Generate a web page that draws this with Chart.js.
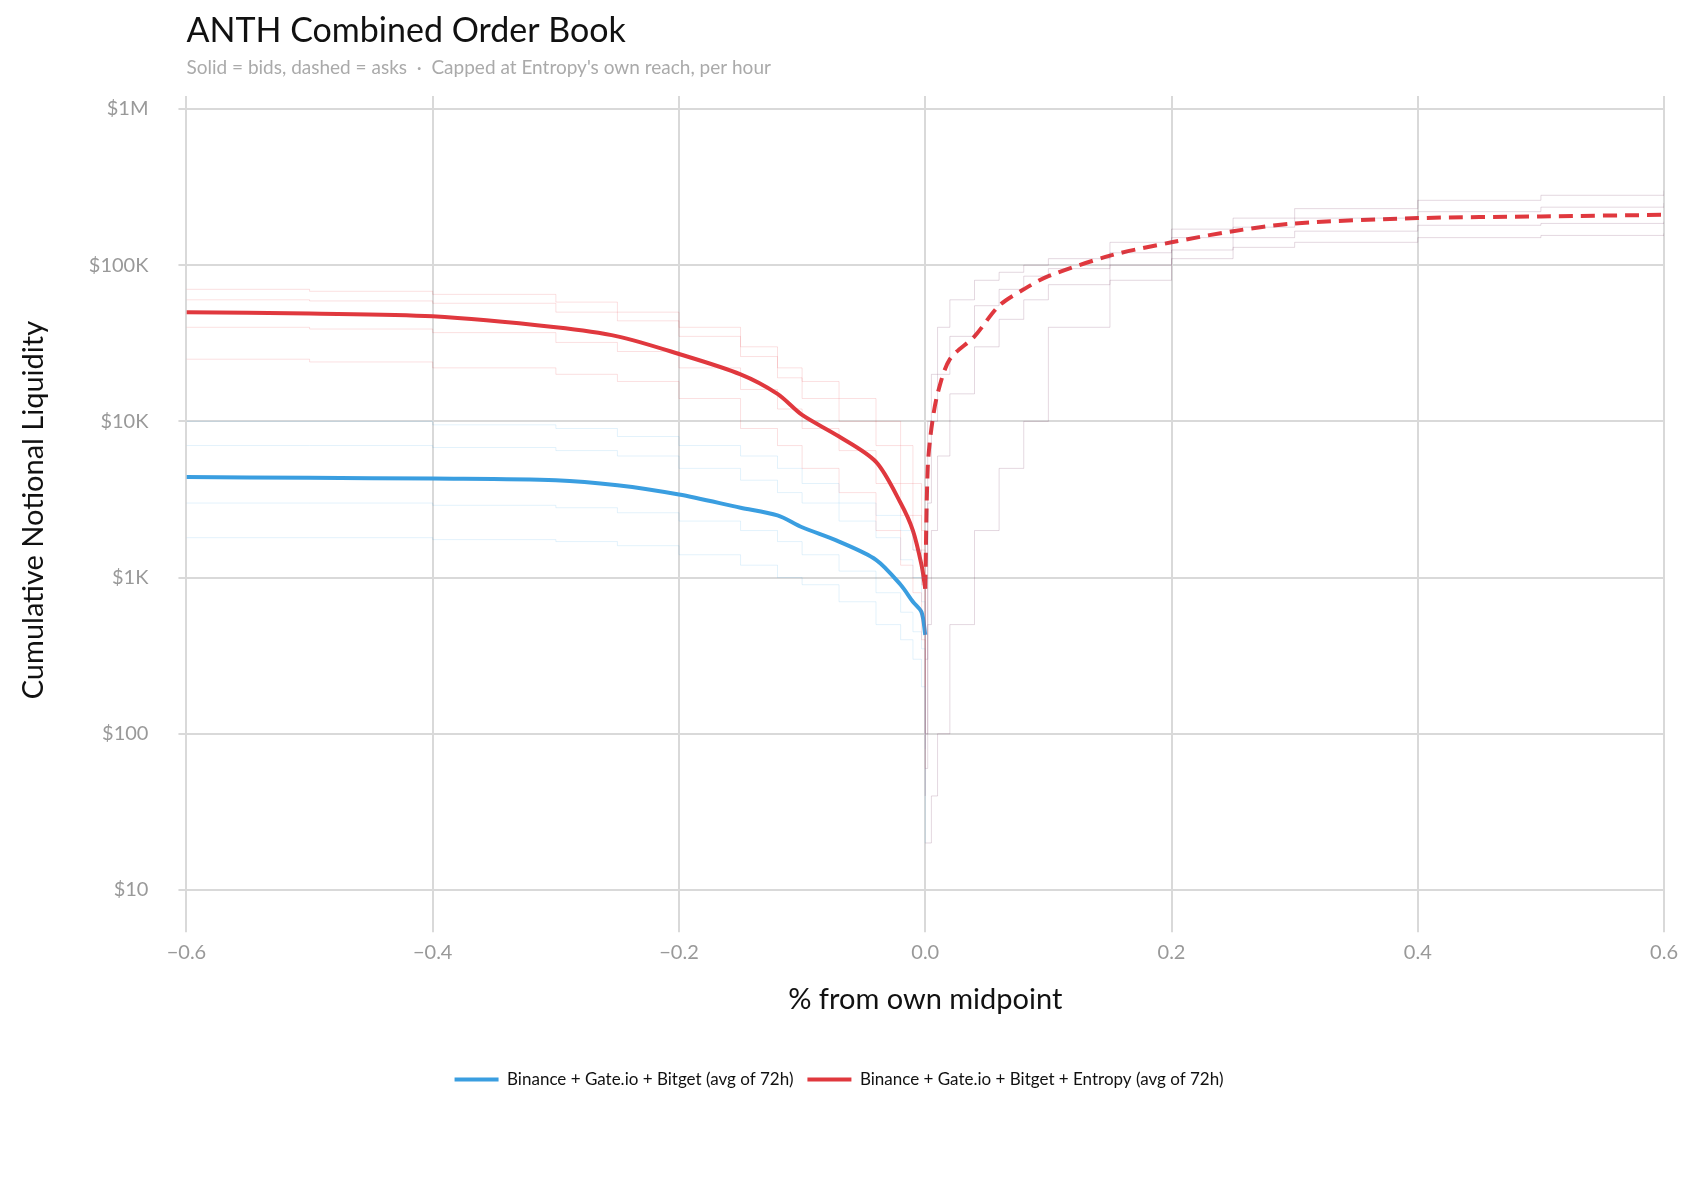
<!DOCTYPE html>
<html><head><meta charset="utf-8">
<script src="https://cdn.jsdelivr.net/npm/chart.js@4/dist/chart.umd.min.js"></script>
<style>html,body{margin:0;background:#fff}#w{width:1686px;height:1178px}</style>
</head><body><div id="w"><canvas id="c"></canvas></div>
<script>
const title = "ANTH Combined Order Book";
const subtitle = "Solid = bids, dashed = asks  ·  Capped at Entropy's own reach, per hour";
const xTicks = [-0.6,-0.4,-0.2,0,0.2,0.4,0.6];
const yTicks = [10,100,1000,10000,100000,1000000];
const yTickLabels = ["$10","$100","$1K","$10K","$100K","$1M"];

const bidX = [-0.6,-0.5,-0.4,-0.3,-0.25,-0.2,-0.15,-0.12,-0.1,-0.07,-0.04,-0.02,-0.01,-0.003,0];
const redBid = [50000,49000,47000,40000,35000,27000,20000,15000,11000,8000,5500,3000,2000,1200,850];
const blueBid = [4400,4350,4300,4200,3900,3400,2800,2500,2100,1700,1300,900,700,600,430];
const askX = [0,0.002,0.005,0.01,0.02,0.04,0.06,0.08,0.1,0.15,0.2,0.25,0.3,0.4,0.5,0.6];
const redAsk = [850,5000,9000,15000,25000,35000,55000,70000,85000,115000,140000,165000,185000,200000,205000,210000];

// faint hourly lines (approximate)
const redBidHours = [
  [70000,68000,65000,58000,50000,40000,30000,22000,18000,14000,10000,7000,4000,2000,100],
  [60000,59000,57000,50000,44000,35000,26000,19000,14000,10000,7000,4000,2500,1500,200],
  [40000,39000,37000,32000,28000,22000,16000,12000,9000,6500,4000,2500,1500,900,60],
  [25000,24000,22000,20000,18000,14000,9000,7000,5000,3500,2000,1200,800,400,40]];
const blueBidHours = [
  [10000,10000,9500,9000,8000,7000,6000,5000,4000,3000,2500,2000,1500,1000,100],
  [7000,7000,6800,6500,6000,5000,4200,3500,3000,2300,1800,1300,1000,700,80],
  [3000,3000,2900,2800,2600,2300,2000,1700,1400,1100,800,600,450,350,40],
  [1800,1800,1750,1700,1600,1400,1200,1000,900,700,500,400,300,200,20]];
const askHours = [
  [100,10000,20000,40000,60000,80000,90000,100000,110000,140000,170000,200000,230000,260000,280000,300000],
  [300,3000,10000,20000,35000,55000,70000,85000,95000,120000,150000,175000,200000,220000,235000,250000],
  [60,500,2000,6000,15000,30000,45000,60000,75000,100000,125000,150000,165000,180000,185000,190000],
  [20,20,40,100,500,2000,5000,10000,40000,80000,110000,130000,140000,150000,155000,160000]];

const pts = (xs, ys) => xs.map((x,i)=>({x, y: ys[i]}));
const faint = (xs, ys, color) => ({label: '_', data: pts(xs,ys), borderColor: color, borderWidth: 1, pointRadius: 0, stepped: true, fill: false});

const titlePlugin = { id: 'tp', afterDraw(ch) {
  const c = ch.ctx, L = ch.chartArea.left;
  c.save(); c.textBaseline = 'alphabetic'; c.textAlign = 'left';
  c.fillStyle = '#111'; c.font = '34px Lato'; c.fillText(title, L, 42);
  c.fillStyle = '#aaa'; c.font = '19px Lato'; c.fillText(subtitle, L, 74);
  c.restore();
}};

new Chart(document.getElementById('c'), {
  type: 'line',
  data: { datasets: [
    ...redBidHours.map(h => faint(bidX, h, 'rgba(230,60,70,0.16)')),
    ...blueBidHours.map(h => faint(bidX, h, 'rgba(60,160,225,0.14)')),
    ...askHours.map(h => faint(askX, h, 'rgba(120,60,100,0.2)')),
    {label: 'Binance + Gate.io + Bitget (avg of 72h)', data: pts(bidX, blueBid), borderColor: '#3a9ee0', backgroundColor:'#3a9ee0', borderWidth: 4, pointRadius: 0, tension: 0.3},
    {label: 'Binance + Gate.io + Bitget + Entropy (avg of 72h)', data: pts(bidX, redBid), borderColor: '#e0383e', backgroundColor:'#e0383e', borderWidth: 4, pointRadius: 0, tension: 0.3},
    {label: 'asks', data: pts(askX, redAsk), borderColor: '#e0383e', borderWidth: 4, borderDash: [14,8], pointRadius: 0, tension: 0.3}
  ]},
  plugins: [titlePlugin],
  options: {
    responsive: true, maintainAspectRatio: false, animation: false,
    layout: { padding: { left: 12, right: 20, top: 96, bottom: 80 } },
    plugins: {
      legend: { position: 'bottom', maxWidth: 560, labels: { filter: it => it.text.startsWith('Binance'), usePointStyle: true, pointStyle: 'line', pointStyleWidth: 44, color: '#111', font: { family: 'Lato', size: 17 }, padding: 14 } },
      tooltip: { enabled: false }
    },
    scales: {
      x: { type: 'linear', min: -0.6, max: 0.6,
        afterBuildTicks: s => { s.ticks = xTicks.map(v=>({value:v})); },
        ticks: { color: '#999', font: { family: 'Lato', size: 20 }, callback: v => (v<0?'\u2212':'') + Math.abs(v).toFixed(1), padding: 8 },
        grid: { color: '#d9d9d9', lineWidth: 2, drawTicks: true, tickLength: 8 }, border: { display: false },
        title: { display: true, text: '% from own midpoint', color: '#111', font: { family: 'Lato', size: 29 }, padding: { top: 10, bottom: 40 } } },
      y: { type: 'logarithmic', min: 6.04, max: 1.21e6,
        afterBuildTicks: s => { s.ticks = yTicks.map(v=>({value:v})); },
        ticks: { color: '#999', font: { family: 'Lato', size: 20 }, callback: (v) => { const i = yTicks.indexOf(v); return i>=0 ? yTickLabels[i] : ''; }, padding: 30 },
        grid: { color: '#d9d9d9', lineWidth: 2, tickLength: 8 }, border: { display: false },
        title: { display: true, text: 'Cumulative Notional Liquidity', color: '#111', font: { family: 'Lato', size: 29 }, padding: { bottom: 8 } } }
    }
  }
});
</script></body></html>
